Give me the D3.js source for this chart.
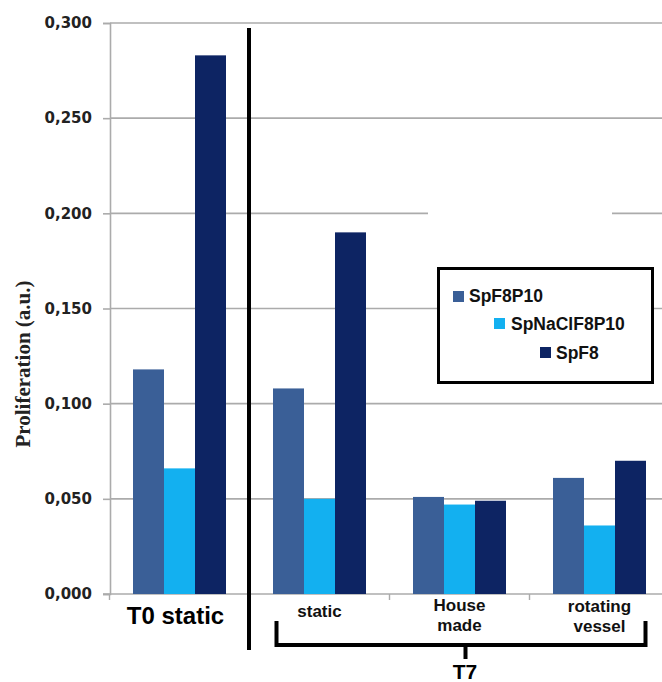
<!DOCTYPE html>
<html>
<head>
<meta charset="utf-8">
<script src="https://cdn.jsdelivr.net/npm/d3@7"></script>
<style>
  html, body { margin: 0; padding: 0; background: #fff; }
  svg { display: block; }
</style>
</head>
<body>
<svg id="chart" width="662" height="682"></svg>
<script>
// Proliferation per condition, three cell preparations
const categories = ["T0 static", "static", "House made", "rotating vessel"];
const series = ["SpF8P10", "SpNaClF8P10", "SpF8"];
const valuesSpF8P10 = [0.118, 0.108, 0.051, 0.061];
const valuesSpNaClF8P10 = [0.066, 0.050, 0.047, 0.036];
const valuesSpF8 = [0.283, 0.190, 0.049, 0.070];
const yTicks = [0, 0.05, 0.10, 0.15, 0.20, 0.25, 0.30];
const seriesColors = ["#3a5f97", "#13b0f0", "#0d2463"];

const seriesValues = [valuesSpF8P10, valuesSpNaClF8P10, valuesSpF8];

const svg = d3.select("#chart");

const x0 = d3.scaleBand().domain(categories).range([109.5, 669.5]).padding(0);
const x1 = d3.scaleBand().domain(series).range([23.5, 116.5]).padding(0);
const y = d3.scaleLinear().domain([0, 0.3]).range([594, 23]);

const locale = d3.formatLocale({ decimal: ",", thousands: ".", grouping: [3], currency: ["", ""] });
const fmt = locale.format(".3f");

// horizontal grid
svg.append("g")
  .selectAll("line")
  .data(yTicks.slice(1))
  .join("line")
  .attr("x1", 110).attr("x2", 662)
  .attr("y1", d => y(d)).attr("y2", d => y(d))
  .attr("stroke", "#ababab").attr("stroke-width", 1.6);

// y axis
const yAxis = svg.append("g")
  .attr("transform", "translate(110,0)")
  .call(d3.axisLeft(y).tickValues(yTicks).tickFormat(fmt).tickSize(7).tickPadding(11));
yAxis.select(".domain").attr("stroke", "#ababab").attr("stroke-width", 1.6);
yAxis.selectAll(".tick line").attr("stroke", "#ababab").attr("stroke-width", 1.6);
yAxis.selectAll(".tick text")
  .attr("font-family", "'DejaVu Sans', Verdana, sans-serif")
  .attr("font-weight", "bold")
  .attr("font-size", 15)
  .attr("fill", "#222");

// baseline with category boundary ticks
svg.append("line")
  .attr("x1", 103).attr("x2", 662)
  .attr("y1", y(0)).attr("y2", y(0))
  .attr("stroke", "#ababab").attr("stroke-width", 1.6);
svg.append("g")
  .selectAll("line")
  .data(categories)
  .join("line")
  .attr("x1", d => x0(d)).attr("x2", d => x0(d))
  .attr("y1", y(0)).attr("y2", y(0) + 6)
  .attr("stroke", "#ababab").attr("stroke-width", 1.4);

// bars
const groups = svg.append("g")
  .selectAll("g")
  .data(categories)
  .join("g")
  .attr("transform", d => `translate(${x0(d)},0)`);

groups.selectAll("rect")
  .data((d, i) => series.map((s, j) => ({ s, j, v: seriesValues[j][i] })))
  .join("rect")
  .attr("x", d => x1(d.s))
  .attr("width", x1.bandwidth())
  .attr("y", d => y(d.v))
  .attr("height", d => y(0) - y(d.v))
  .attr("fill", d => seriesColors[d.j]);

// y axis title
svg.append("text")
  .attr("transform", "translate(30,364) rotate(-90)")
  .attr("text-anchor", "middle")
  .attr("font-family", "'Liberation Serif', 'Times New Roman', serif")
  .attr("font-weight", "bold")
  .attr("font-size", 21)
  .attr("fill", "#222")
  .text("Proliferation (a.u.)");

// separator between T0 and T7
svg.append("line")
  .attr("x1", 249).attr("x2", 249)
  .attr("y1", 28).attr("y2", 650)
  .attr("stroke", "#000").attr("stroke-width", 4);

// category labels
const sans = "'Liberation Sans', Arial, sans-serif";
svg.append("text")
  .attr("x", x0("T0 static") + 70 - 4).attr("y", 624)
  .attr("text-anchor", "middle")
  .attr("font-family", sans).attr("font-weight", "bold").attr("font-size", 24)
  .attr("fill", "#000")
  .text("T0 static");

const t7Labels = [
  { cat: "static", lines: ["static"], y0: 617, gap: 0 },
  { cat: "House made", lines: ["House", "made"], y0: 611, gap: 19.5 },
  { cat: "rotating vessel", lines: ["rotating", "vessel"], y0: 612, gap: 20 }
];
t7Labels.forEach(l => {
  const t = svg.append("text")
    .attr("text-anchor", "middle")
    .attr("font-family", sans).attr("font-weight", "bold").attr("font-size", 17)
    .attr("fill", "#111");
  l.lines.forEach((s, k) => {
    t.append("tspan")
      .attr("x", x0(l.cat) + 70)
      .attr("y", l.y0 + k * l.gap)
      .text(s);
  });
});

// T7 bracket
svg.append("path")
  .attr("d", "M276.5,621 V645 H645.5 V621 M465.5,645 V659")
  .attr("fill", "none").attr("stroke", "#000").attr("stroke-width", 4);
svg.append("text")
  .attr("x", 465).attr("y", 679)
  .attr("text-anchor", "middle")
  .attr("font-family", sans).attr("font-weight", "bold").attr("font-size", 21)
  .attr("fill", "#000")
  .text("T7");

// legend backing that hides part of the 0,200 gridline
svg.append("rect")
  .attr("x", 428).attr("y", 206).attr("width", 184).attr("height", 14)
  .attr("fill", "#fff");

// legend
const legend = svg.append("g");
legend.append("rect")
  .attr("x", 438.5).attr("y", 268.5).attr("width", 214).attr("height", 114)
  .attr("fill", "#fff").attr("stroke", "#000").attr("stroke-width", 3);
const legendPos = [
  { sx: 453, sy: 291, tx: 469, ty: 302 },
  { sx: 494, sy: 318, tx: 511, ty: 330 },
  { sx: 540, sy: 347, tx: 556, ty: 359 }
];
series.forEach((s, j) => {
  const p = legendPos[j];
  legend.append("rect")
    .attr("x", p.sx).attr("y", p.sy).attr("width", 11).attr("height", 11)
    .attr("fill", seriesColors[j]);
  legend.append("text")
    .attr("x", p.tx).attr("y", p.ty)
    .attr("font-family", sans).attr("font-weight", "bold").attr("font-size", 17.5)
    .attr("fill", "#111")
    .text(s);
});
</script>
</body>
</html>
